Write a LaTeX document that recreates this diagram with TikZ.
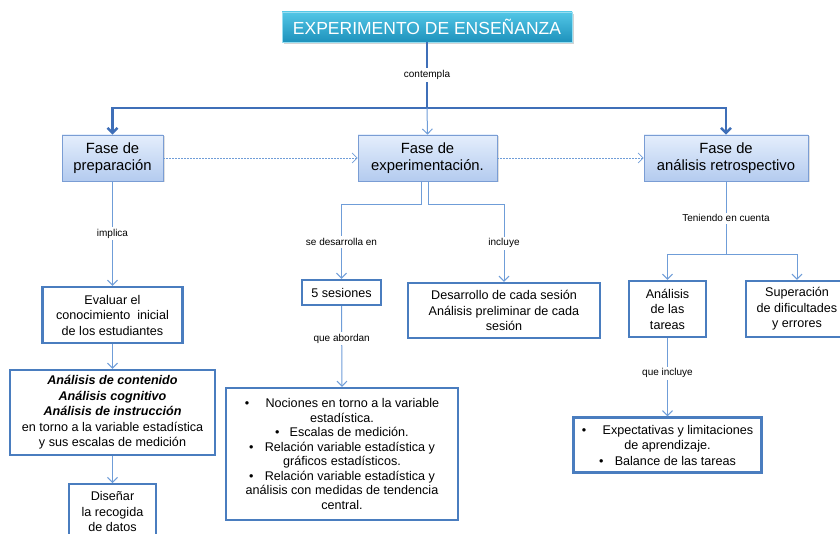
\documentclass[tikz,border=0pt]{standalone}
\usepackage{fontspec}
\setmainfont{Liberation Sans}
\usetikzlibrary{arrows.meta,shadows}
\definecolor{boxblue}{HTML}{4A7DBF}
\definecolor{connblue}{HTML}{6F9DD8}
\definecolor{darkconn}{HTML}{3F6FB8}
\definecolor{fasetop}{HTML}{E4EEFC}
\definecolor{fasebot}{HTML}{B4CBEF}
\definecolor{faseborder}{HTML}{7A9DD4}
\definecolor{titletop}{HTML}{52C6E6}
\definecolor{titlebot}{HTML}{1E92BC}
\begin{document}
\begin{tikzpicture}[x=1pt,y=-1pt,
  fase/.style={draw=faseborder, line width=0.8pt, top color=fasetop, bottom color=fasebot,
    minimum height=46pt, align=center, inner sep=2pt, font=\fontsize{14.8}{17}\selectfont,
    drop shadow={opacity=0.25, shadow xshift=1.5pt, shadow yshift=-1.5pt}},
  titlebox/.style={draw=titletop!60!white, line width=0.6pt, top color=titletop, bottom color=titlebot,
    text=white, minimum width=290pt, minimum height=30pt, inner sep=2pt,
    font=\fontsize{17.5}{20}\selectfont,
    drop shadow={opacity=0.35, shadow xshift=1.5pt, shadow yshift=-2pt}},
  bbox/.style={draw=boxblue, line width=2.4pt, fill=white, align=center, inner sep=2pt,
    font=\fontsize{12.6}{15.5}\selectfont},
  lbl/.style={fill=white, text=black, inner sep=2pt, font=\fontsize{10}{12}\selectfont},
  conn/.style={draw=connblue, line width=1pt},
  thickconn/.style={draw=darkconn, line width=2.4pt},
  arr/.style={-{Straight Barb[length=5pt,width=10pt]}},
  dashconn/.style={draw=connblue, line width=0.7pt, dash pattern=on 2pt off 1pt, -{Straight Barb[length=5pt,width=10pt]}}
]
\useasboundingbox (0,0) rectangle (840,534);

% title and phases
\node[titlebox] (title) at (427,27) {EXPERIMENTO DE ENSEÑANZA};
\node[fase, minimum width=101pt] (prep) at (112.5,158) {Fase de\\preparación};
\node[fase, minimum width=139pt] (exper) at (427.5,158) {Fase de\\experimentación.};
\node[fase, minimum width=164pt] (retro) at (726,158) {Fase de\\análisis retrospectivo};

\coordinate (hub) at (427,108);
\draw[thickconn] (title.south) -- node[lbl]{contempla} (hub);
\draw[thickconn, arr] (hub) -| (prep.north);
\draw[thickconn, arr] (hub) -| (retro.north);
\draw[conn, arr] (hub) -- (exper.north);

\draw[dashconn] (prep.east) -- (exper.west);
\draw[dashconn] (exper.east) -- (retro.west);

% preparation branch
\node[bbox, minimum width=140pt, minimum height=56pt] (eval) at (112.5,315)
  {Evaluar el\\conocimiento\ \ inicial\\de los estudiantes};
\node[bbox, minimum width=205pt, minimum height=85pt] (anal) at (112.5,412.5)
  {\textbf{\textit{Análisis de contenido}}\\\textbf{\textit{Análisis cognitivo}}\\\textbf{\textit{Análisis de instrucción}}\\en torno a la variable estadística\\y sus escalas de medición};
\node[bbox, minimum width=87pt, minimum height=55pt, anchor=north] (dis) at (112.5,483)
  {Diseñar\\la recogida\\de datos};

\draw[conn, arr] (prep.south) -- node[lbl]{implica} (eval.north);
\draw[conn, arr] (eval.south) -- (anal.north);
\draw[conn, arr] (anal.south) -- (dis.north);

% experimentation branch
\node[bbox, minimum width=79pt, minimum height=25pt] (ses) at (341.5,292.5) {5 sesiones};
\node[bbox, minimum width=192pt, minimum height=55pt] (des) at (504,310.5)
  {Desarrollo de cada sesión\\Análisis preliminar de cada\\sesión};
\node[bbox, minimum width=232pt, minimum height=132pt, font=\fontsize{12.6}{14.5}\selectfont] (noc) at (342,454)
  {•\hspace{1.3em}Nociones en torno a la variable\\estadística.\\•\hspace{0.8em}Escalas de medición.\\•\hspace{0.9em}Relación variable estadística y\\gráficos estadísticos.\\•\hspace{0.9em}Relación variable estadística y\\análisis con medidas de tendencia\\central.};

\draw[conn, arr] ([xshift=-6pt]exper.south) |- (341.5,205) -- node[lbl]{se desarrolla en} (ses.north);
\draw[conn, arr] ([xshift=1pt]exper.south) |- (504,205) -- node[lbl]{incluye} (des.north);
\draw[conn, arr] (ses.south) -- node[lbl, pos=0.4]{que abordan} (noc.north);

% retrospective branch
\node[bbox, minimum width=77pt, minimum height=56pt] (tar) at (667.5,309) {Análisis\\de las\\tareas};
\node[bbox, minimum width=102pt, minimum height=56pt] (sup) at (797,309) {Superación\\de dificultades\\y errores};
\node[bbox, minimum width=188pt, minimum height=55pt] (expe) at (667.5,445)
  {•\hspace{1.3em}Expectativas y limitaciones\\de aprendizaje.\\•\hspace{0.9em}Balance de las tareas};

\coordinate (rhub) at (726,255);
\draw[conn] (retro.south) -- node[lbl]{Teniendo en cuenta} (rhub);
\draw[conn, arr] (rhub) -| (tar.north);
\draw[conn, arr] (rhub) -| (sup.north);
\draw[conn, arr] (tar.south) -- node[lbl, pos=0.45]{que incluye} (expe.north);
\end{tikzpicture}
\end{document}
